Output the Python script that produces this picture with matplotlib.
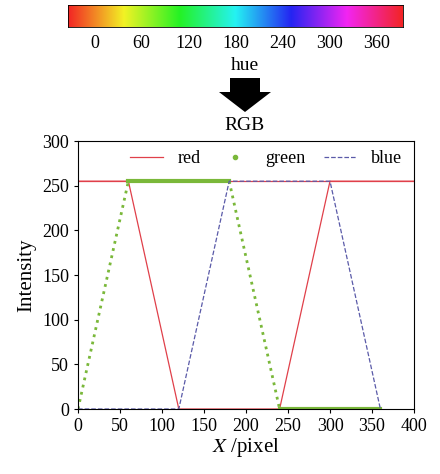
import numpy as np
import matplotlib.pyplot as plt
from matplotlib.colors import hsv_to_rgb

plt.rcParams['font.family'] = ['Liberation Serif', 'DejaVu Serif']
plt.rcParams['mathtext.fontset'] = 'stix'

x_pts = [0, 60, 120, 180, 240, 300, 360, 400]
red = [255, 255, 0, 0, 0, 255, 255, 255]
green = [0, 255, 255, 255, 0, 0, 0]
blue = [0, 0, 0, 255, 255, 255, 0]
hue_ticks = [0, 60, 120, 180, 240, 300, 360]

fig = plt.figure(figsize=(4.40, 4.74), dpi=100)

# hue colour bar
cax = fig.add_axes([68 / 440, 1 - 27 / 474, 335 / 440, 22 / 474])
h = np.linspace(0, 1, 512)
rgb = hsv_to_rgb(np.stack([h, np.full_like(h, 0.85), np.full_like(h, 0.95)], axis=-1))[None, :, :]
cax.imshow(rgb, aspect='auto', extent=[-34, 394, 0, 1])
cax.set_xlim(-34, 394)
cax.set_yticks([])
cax.set_xticks(hue_ticks)
cax.tick_params(length=0, labelsize=13, pad=6)
for s in cax.spines.values():
    s.set_linewidth(0.6)

fig.text(245 / 440, 1 - 66 / 474, 'hue', ha='center', va='center', fontsize=14)
arrow = plt.Polygon(
    [[230, 78], [260, 78], [260, 92], [271, 92], [245, 112], [219, 92], [230, 92]],
    closed=True, transform=None, facecolor='black')
xy = arrow.get_xy()
xy[:, 1] = 474 - xy[:, 1]
arrow.set_xy(xy)
fig.patches.append(arrow)
fig.text(245 / 440, 1 - 125 / 474, 'RGB', ha='center', va='center', fontsize=14)

ax = fig.add_axes([78 / 440, 1 - 409 / 474, 336 / 440, 268 / 474])
ax.axhline(255, color='#e0404a', lw=0.9)
ax.plot(x_pts, red, color='#e0404a', lw=0.9, label='red')
ax.plot(x_pts[:2], green[:2], color='#7ab83a', lw=2, ls=':')
ax.plot(x_pts[1:4], green[1:4], color='#7ab83a', lw=3)
ax.plot(x_pts[3:5], green[3:5], color='#7ab83a', lw=2, ls=':')
ax.plot(x_pts[4:7], green[4:7], color='#7ab83a', lw=3)
ax.plot([], [], color='#7ab83a', ls='none', marker='.', ms=6, label='green')
ax.plot(x_pts[:7], blue, color='#5a5aa8', lw=0.9, ls='--', label='blue')
ax.set_xlim(0, 400)
ax.set_ylim(0, 300)
ax.set_xticks(range(0, 401, 50))
ax.set_yticks(range(0, 301, 50))
ax.tick_params(labelsize=13, direction='out', length=3)
ax.set_xlabel(r'$X$ /pixel', fontsize=15, labelpad=1)
ax.set_ylabel('Intensity', fontsize=15)
ax.legend(loc='upper center', bbox_to_anchor=(0.56, 1.0), ncol=3, frameon=False,
          fontsize=13, handlelength=1.8, columnspacing=1.0, borderaxespad=0.1)

fig.savefig('out.png', dpi=100)
